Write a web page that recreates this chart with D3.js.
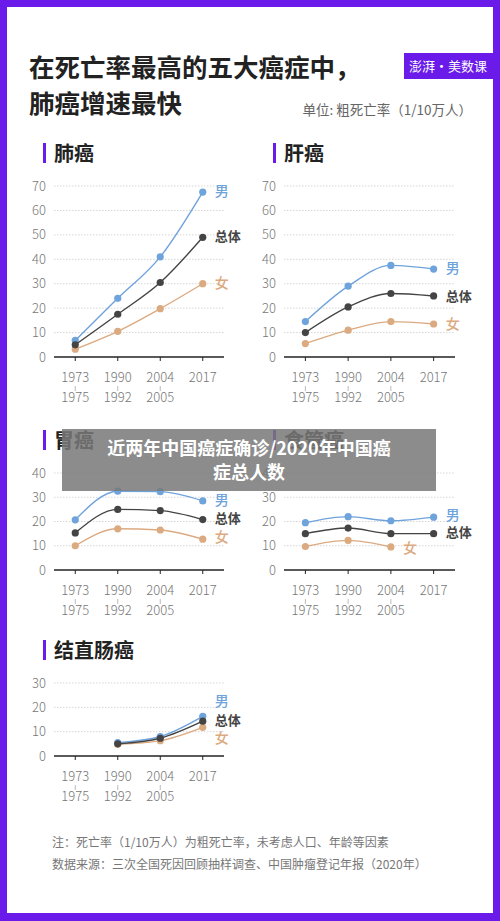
<!DOCTYPE html>
<html lang="zh">
<head>
<meta charset="UTF-8">
<script src="https://d3js.org/d3.v7.min.js"></script>
<style>
  body { margin: 0; background: #fff; }
  svg { display: block; font-family: "Noto Sans CJK SC", "Noto Sans", sans-serif; }
</style>
</head>
<body>
<svg id="chart" width="500" height="921"></svg>
<script>
// Data (crude death rate, per 100k)
const periods = ["1973|1975", "1990|1992", "2004|2005", "2017"];
const seriesNames = ["男", "总体", "女"];
const colors = { "男": "#6fa3dc", "总体": "#444444", "女": "#dcaa80" };

const lungMale = [6.8, 24, 41, 67.5];
const lungTotal = [5, 17.5, 30.5, 49];
const lungFemale = [3.2, 10.5, 19.8, 30];

const liverMale = [14.5, 29, 37.5, 36];
const liverTotal = [10, 20.5, 26, 25];
const liverFemale = [5.5, 11, 14.5, 13.5];

const stomachMale = [20.7, 32.5, 32.3, 28.5];
const stomachTotal = [15.3, 25, 24.5, 20.8];
const stomachFemale = [10, 17, 16.5, 12.7];

const esoMale = [19.5, 22, 20.3, 21.8];
const esoTotal = [15, 17.3, 15, 15];
const esoFemale = [9.7, 12.2, 9.5, null];

const crcMale = [null, 5.5, 8, 16.3];
const crcTotal = [null, 5, 7.3, 14.3];
const crcFemale = [null, 4.8, 6.3, 11.8];

// layout config per panel
const panels = [
  { title: "肺癌", x0: 54, x1: 224, top: 186, bottom: 357, max: 70, titleY: 155,
    series: [lungMale, lungTotal, lungFemale], labelAt: [68, 49.6, 30.3] },
  { title: "肝癌", x0: 284, x1: 455, top: 186, bottom: 357, max: 70, titleY: 155,
    series: [liverMale, liverTotal, liverFemale], labelAt: [36.5, 25, 13.5] },
  { title: "胃癌", x0: 54, x1: 224, top: 473, bottom: 570, max: 40, titleY: 442,
    series: [stomachMale, stomachTotal, stomachFemale], labelAt: [28.8, 21.4, 13.6] },
  { title: "食管癌", x0: 284, x1: 455, top: 473, bottom: 570, max: 40, titleY: 442,
    series: [esoMale, esoTotal, esoFemale], labelAt: [22.6, 15.6, 9], femaleLabelIdx: 2.5 },
  { title: "结直肠癌", x0: 54, x1: 224, top: 683, bottom: 756, max: 30, titleY: 652,
    series: [crcMale, crcTotal, crcFemale], labelAt: [22.5, 14.6, 7.2] }
];

const svg = d3.select("#chart");

// purple frame
svg.append("rect").attr("width", 500).attr("height", 921).attr("fill", "#6a1bea");
svg.append("rect").attr("x", 7).attr("y", 7).attr("width", 486).attr("height", 906).attr("fill", "#fff");

// heading
svg.append("text").attr("x", 29).attr("y", 77).attr("font-size", 25.5).attr("font-weight", 700)
  .attr("fill", "#222").text("在死亡率最高的五大癌症中，");
svg.append("text").attr("x", 29).attr("y", 113).attr("font-size", 25.5).attr("font-weight", 700)
  .attr("fill", "#222").text("肺癌增速最快");
svg.append("rect").attr("x", 404).attr("y", 53).attr("width", 96).attr("height", 26).attr("fill", "#6a1bea");
svg.append("text").attr("x", 448).attr("y", 71).attr("text-anchor", "middle").attr("font-size", 13)
  .attr("fill", "#fff").text("澎湃·美数课");
svg.append("text").attr("x", 472).attr("y", 115).attr("text-anchor", "end").attr("font-size", 13.5)
  .attr("fill", "#666").text("单位: 粗死亡率（1/10万人）");

panels.forEach(p => {
  const g = svg.append("g");
  const x = d3.scalePoint().domain(periods).range([p.x0, p.x1]).padding(0.5);
  const y = d3.scaleLinear().domain([0, p.max]).range([p.bottom, p.top]);

  // section title
  g.append("rect").attr("x", p.x0 - 11).attr("y", p.titleY - 12).attr("width", 3).attr("height", 20)
    .attr("fill", "#6a1bea");
  g.append("text").attr("x", p.x0).attr("y", p.titleY + 6).attr("font-size", 20)
    .attr("font-weight", 700).attr("fill", "#222").text(p.title);

  // grid + y labels
  const ticks = d3.range(0, p.max + 1, 10);
  g.selectAll(".grid").data(ticks.filter(t => t > 0)).join("line")
    .attr("x1", p.x0).attr("x2", p.x1).attr("y1", d => y(d)).attr("y2", d => y(d))
    .attr("stroke", "#ccc").attr("stroke-width", 0.8).attr("stroke-dasharray", "1.5,1.5");
  g.selectAll(".yl").data(ticks).join("text")
    .attr("x", p.x0 - 8).attr("y", d => y(d) + 4.5).attr("text-anchor", "end")
    .attr("font-size", 13).attr("fill", "#777").attr("font-weight", 300).text(d => d);

  // baseline + ticks
  g.append("line").attr("x1", p.x0).attr("x2", p.x1).attr("y1", p.bottom).attr("y2", p.bottom)
    .attr("stroke", "#222").attr("stroke-width", 1.5);
  g.selectAll(".tk").data(periods).join("line")
    .attr("x1", d => x(d)).attr("x2", d => x(d)).attr("y1", p.bottom).attr("y2", p.bottom + 4)
    .attr("stroke", "#222").attr("stroke-width", 1);

  // x labels
  periods.forEach(d => {
    const parts = d.split("|");
    const t = g.append("text").attr("x", x(d)).attr("text-anchor", "middle")
      .attr("font-size", 13).attr("fill", "#777").attr("font-weight", 300);
    t.append("tspan").attr("x", x(d)).attr("y", p.bottom + 25).text(parts[0]);
    if (parts[1]) {
      g.append("line").attr("x1", x(d)).attr("x2", x(d)).attr("y1", p.bottom + 29).attr("y2", p.bottom + 34)
        .attr("stroke", "#aaa").attr("stroke-width", 0.8);
      t.append("tspan").attr("x", x(d)).attr("y", p.bottom + 45).text(parts[1]);
    }
  });

  // lines (total drawn last)
  const order = [2, 0, 1];
  order.forEach(si => {
    const vals = p.series[si];
    const name = seriesNames[si];
    const pts = periods.map((d, i) => ({ d, v: vals[i] })).filter(o => o.v != null);
    const line = d3.line().x(o => x(o.d)).y(o => y(o.v)).curve(d3.curveMonotoneX);
    g.append("path").attr("d", line(pts)).attr("fill", "none")
      .attr("stroke", colors[name]).attr("stroke-width", 1.4);
    g.selectAll(null).data(pts).join("circle")
      .attr("cx", o => x(o.d)).attr("cy", o => y(o.v)).attr("r", 3.6).attr("fill", colors[name]);
  });

  // series labels
  seriesNames.forEach((name, si) => {
    let lx = x(periods[3]) + 12;
    if (name === "女" && p.femaleLabelIdx) lx = x(periods[2]) + 12;
    g.append("text").attr("x", lx).attr("y", y(p.labelAt[si]) + 5)
      .attr("font-size", name === "总体" ? 13 : 14).attr("font-weight", name === "总体" ? 700 : 500)
      .attr("fill", colors[name]).text(name);
  });
});

// footnotes
svg.append("text").attr("x", 52).attr("y", 847).attr("font-size", 12).attr("fill", "#777")
  .text("注：死亡率（1/10万人）为粗死亡率，未考虑人口、年龄等因素");
svg.append("text").attr("x", 52).attr("y", 869).attr("font-size", 12).attr("fill", "#777")
  .text("数据来源：三次全国死因回顾抽样调查、中国肿瘤登记年报（2020年）");

// caption overlay
svg.append("rect").attr("x", 62).attr("y", 429).attr("width", 374).attr("height", 62)
  .attr("fill", "rgba(120,120,120,0.85)");
svg.append("text").attr("x", 249).attr("y", 455).attr("text-anchor", "middle").attr("font-size", 18)
  .attr("font-weight", 700).attr("fill", "#fff").text("近两年中国癌症确诊/2020年中国癌");
svg.append("text").attr("x", 249).attr("y", 479).attr("text-anchor", "middle").attr("font-size", 18)
  .attr("font-weight", 700).attr("fill", "#fff").text("症总人数");
</script>
</body>
</html>
